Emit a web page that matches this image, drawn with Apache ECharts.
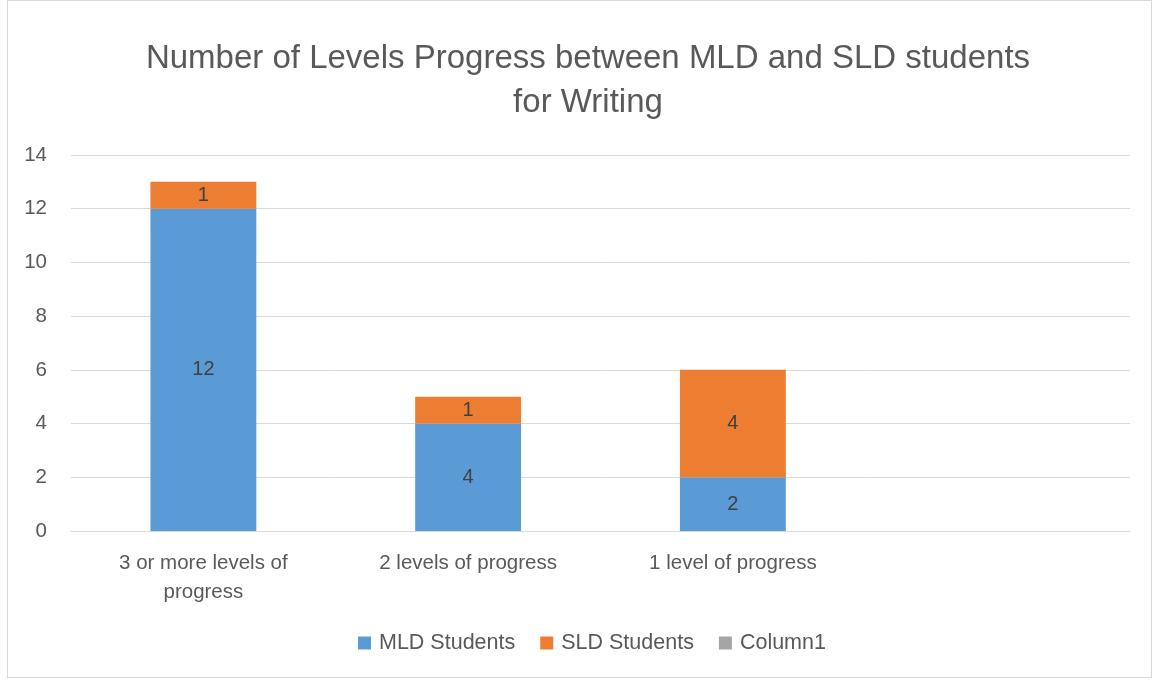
<!DOCTYPE html>
<html><head><meta charset="utf-8">
<script src="https://cdn.jsdelivr.net/npm/echarts@6/dist/echarts.min.js"></script>
<style>
html,body{margin:0;padding:0;background:#fff;}
#frame{position:absolute;left:7px;top:0px;width:1145px;height:678px;border:1px solid #d9d9d9;box-sizing:border-box;}
#c{position:absolute;left:0;top:0;width:1154px;height:680px;}
</style></head>
<body><div id="frame"></div><div id="c"></div>
<script>
var categories = ['3 or more levels of\nprogress', '2 levels of progress', '1 level of progress', ''];
var mldValues = [12, 4, 2, null];
var sldValues = [1, 1, 4, null];
var column1Values = [null, null, null, null];
var yTicks = {min: 0, max: 14, interval: 2};

var font = 'Liberation Sans';
var chart = echarts.init(document.getElementById('c'));
var lbl = {show: true, position: 'inside', color: '#404040', fontSize: 20, fontFamily: font};
chart.setOption({
  animation: false,
  title: {
    text: 'Number of Levels Progress between MLD and SLD students\nfor Writing',
    left: 583, top: 32, textAlign: 'center',
    textStyle: {fontFamily: font, fontSize: 33, fontWeight: 'normal', color: '#595959', lineHeight: 44}
  },
  legend: {
    bottom: 21, left: 353, itemWidth: 13, itemHeight: 13, itemGap: 25, icon: 'rect',
    textStyle: {fontFamily: font, fontSize: 21.5, color: '#595959', padding: [0, 0, 0, 3]}
  },
  grid: {left: 71, right: 24, top: 155, bottom: 149, containLabel: false},
  xAxis: {
    type: 'category', data: categories,
    axisLine: {lineStyle: {color: '#d9d9d9'}}, axisTick: {show: false},
    axisLabel: {fontFamily: font, fontSize: 20.5, color: '#595959', lineHeight: 29, margin: 18, interval: 0}
  },
  yAxis: {
    type: 'value', min: yTicks.min, max: yTicks.max, interval: yTicks.interval,
    axisLine: {show: false}, axisTick: {show: false},
    splitLine: {lineStyle: {color: '#d9d9d9', width: 1}},
    axisLabel: {fontFamily: font, fontSize: 20.5, color: '#595959', margin: 24}
  },
  series: [
    {name: 'MLD Students', type: 'bar', stack: 's', data: mldValues, barWidth: '40%', itemStyle: {color: '#5b9bd5'}, label: lbl},
    {name: 'SLD Students', type: 'bar', stack: 's', data: sldValues, barWidth: '40%', itemStyle: {color: '#ed7d31'}, label: lbl},
    {name: 'Column1', type: 'bar', stack: 's', data: column1Values, barWidth: '40%', itemStyle: {color: '#a5a5a5'}, label: lbl}
  ]
});
</script></body></html>
